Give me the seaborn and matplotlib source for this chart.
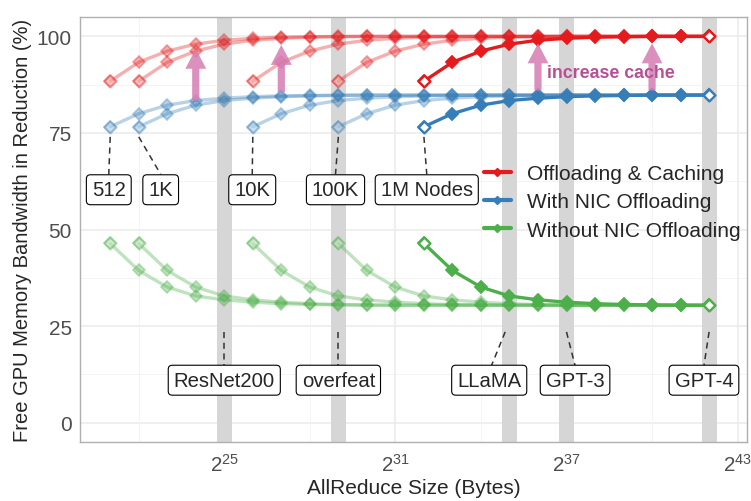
import numpy as np
import pandas as pd
import matplotlib
matplotlib.use("Agg")
import matplotlib.pyplot as plt
import seaborn as sns
from matplotlib.lines import Line2D

# ---------------- data ----------------
node_labels = ["512", "1K", "10K", "100K", "1M Nodes"]
start_exp = [21, 22, 26, 29, 32]          # log2 of first AllReduce size for each node count
end_exp = 42                               # log2 of last AllReduce size

configs = ["Offloading & Caching", "With NIC Offloading", "Without NIC Offloading"]
colors = ["#E41A1C", "#377EB8", "#4DAF4A"]

# value vs. steps (doublings) from each series' first size
red_profile = [88.4, 93.3, 96.2, 98.0, 99.0, 99.5, 99.8, 99.9, 100.0, 100.0, 100.0,
               100.0, 100.0, 100.0, 100.0, 100.0, 100.0, 100.0, 100.0, 100.0, 100.0, 100.0]
blue_profile = [76.6, 80.0, 82.2, 83.4, 84.0, 84.4, 84.6, 84.7, 84.8, 84.8, 84.8,
                84.8, 84.8, 84.8, 84.8, 84.8, 84.8, 84.8, 84.8, 84.8, 84.8, 84.8]
green_profile = [46.4, 39.4, 35.1, 32.8, 31.8, 31.2, 30.8, 30.6, 30.5, 30.4, 30.4,
                 30.4, 30.4, 30.4, 30.4, 30.4, 30.4, 30.4, 30.4, 30.4, 30.4, 30.4]
profiles = [red_profile, blue_profile, green_profile]

# model markers (log2 sizes) and labels
model_names = ["ResNet200", "overfeat", "LLaMA", "GPT-3", "GPT-4"]
model_exp = [25, 29, 35, 37, 42]

# cache arrows: (log2 x, base value, tip value)
arrow_exp = [24, 27, 36, 40]
arrow_base = [83.4, 85.6, 86.0, 86.0]
arrow_tip = [96.8, 97.8, 98.2, 98.2]

# ---------------- build long table ----------------
rows = []
for lab, s in zip(node_labels, start_exp):
    n = end_exp - s + 1
    for cfg, prof in zip(configs, profiles):
        for k in range(n):
            rows.append(dict(nodes=lab, config=cfg, size=2.0 ** (s + k),
                             value=prof[k], step=k, is_last=(k == n - 1)))
df = pd.DataFrame(rows)

# ---------------- style ----------------
sns.set_style("white")
plt.rcParams["font.family"] = ["Liberation Sans", "DejaVu Sans"]
plt.rcParams["mathtext.fontset"] = "custom"
plt.rcParams["mathtext.rm"] = "Liberation Sans"
plt.rcParams["mathtext.it"] = "Liberation Sans"

fig = plt.figure(figsize=(7.51, 5.02), dpi=100)
ax = fig.add_axes([0.1065, 0.1175, 0.8882, 0.8465])
ax.set_xscale("log", base=2)
ax.set_xlim(2 ** 19.94, 2 ** 43.33)
ax.set_ylim(-5, 105)

# grid
for y in [0, 25, 50, 75, 100]:
    ax.axhline(y, color="#EBEBEB", lw=1.1, zorder=0)
for y in [12.5, 37.5, 62.5, 87.5]:
    ax.axhline(y, color="#F2F2F2", lw=0.6, zorder=0)
for e in [25, 31, 37, 43]:
    ax.axvline(2.0 ** e, color="#EBEBEB", lw=1.1, zorder=0)
for e in [22, 28, 34, 40]:
    ax.axvline(2.0 ** e, color="#F2F2F2", lw=0.6, zorder=0)

# model bands
for e in model_exp:
    ax.axvspan(2.0 ** (e - 0.26), 2.0 ** (e + 0.26), color="#D6D6D6", lw=0, zorder=1)

# lines
for lab in node_labels:
    sub = df[df.nodes == lab]
    solid = lab == "1M Nodes"
    a = 1.0 if solid else 0.35
    for cfg, col in zip(configs, colors):
        s2 = sub[sub.config == cfg]
        sns.lineplot(data=s2, x="size", y="value", color=col,
                     estimator=None, sort=False, legend=False, ax=ax, lw=2.4, alpha=a,
                     marker="D", markersize=6.3, markeredgewidth=1.3, markeredgecolor=col,
                     zorder=3 if solid else 2)
        if solid:
            ends = s2[(s2.step == 0) | s2.is_last]
        else:
            ends = s2[s2.step == 0]
        sns.scatterplot(data=ends, x="size", y="value", marker="D", s=36, color="white",
                        edgecolor=col, linewidth=1.7, alpha=a, ax=ax, legend=False,
                        zorder=4 if solid else 2.5)

# arrows
for e, b, t in zip(arrow_exp, arrow_base, arrow_tip):
    ax.annotate("", xy=(2.0 ** e, t), xytext=(2.0 ** e, b),
                arrowprops=dict(arrowstyle="simple,head_width=0.75,head_length=0.72,tail_width=0.26",
                                color="#D57DB2", alpha=0.85, lw=0, shrinkA=0, shrinkB=0,
                                mutation_scale=20), zorder=5)
ax.text(2.0 ** 38.55, 90.6, "increase cache", color="#B84F95", fontsize=12.8,
        fontweight="bold", ha="center", va="center", zorder=6)

box = dict(boxstyle="round,pad=0.27,rounding_size=0.2", fc="white", ec="black", lw=0.8)

# node labels
node_lab_x = [20.95, 22.77, 25.98, 28.9, 32.1]
for lab, s, lx in zip(node_labels, start_exp, node_lab_x):
    ax.plot([2.0 ** s, 2.0 ** lx], [74.0, 64.3], ls=(0, (4, 3)), color="#333333", lw=1.1, zorder=4)
    ax.text(2.0 ** lx, 60.3, lab, ha="center", va="center", fontsize=14.6, bbox=box, zorder=7)

# model labels
model_lab_x = [25.0, 29.0, 34.29, 37.3, 41.82]
for name, e, lx in zip(model_names, model_exp, model_lab_x):
    sx = e - 0.15 if name == "LLaMA" else e
    ax.plot([2.0 ** sx, 2.0 ** (lx + (0.08 if name == "LLaMA" else 0))], [23.5, 14.8],
            ls=(0, (4, 3)), color="#333333", lw=1.1, zorder=4)
    ax.text(2.0 ** lx, 11.0, name, ha="center", va="center", fontsize=14.6, bbox=box, zorder=7)

# axes styling
ax.set_xticks([2.0 ** e for e in [25, 31, 37, 43]])
ax.set_xticklabels([r"$2^{%d}$" % e for e in [25, 31, 37, 43]])
ax.set_xticks([], minor=True)
ax.set_yticks([0, 25, 50, 75, 100])
ax.tick_params(axis="both", labelsize=15, colors="#4D4D4D", length=4, width=1,
               direction="out", pad=2)
ax.tick_params(axis="x", labelsize=14.8, pad=4)
for sp in ax.spines.values():
    sp.set_color("#AFAFAF")
    sp.set_linewidth(1.0)
ax.set_xlabel("AllReduce Size (Bytes)", fontsize=15, labelpad=2)
ax.set_ylabel("Free GPU Memory Bandwidth in Reduction (%)", fontsize=14.5, labelpad=3)

handles = [Line2D([0], [0], color=c, lw=3, marker="D", markersize=4) for c in colors]
ax.legend(handles, configs, loc="upper left", bbox_to_anchor=(0.5925, 0.674), frameon=False,
          fontsize=15, handlelength=1.3, handletextpad=0.8, labelspacing=0.45,
          borderaxespad=0)

fig.savefig("out.png", dpi=100)
